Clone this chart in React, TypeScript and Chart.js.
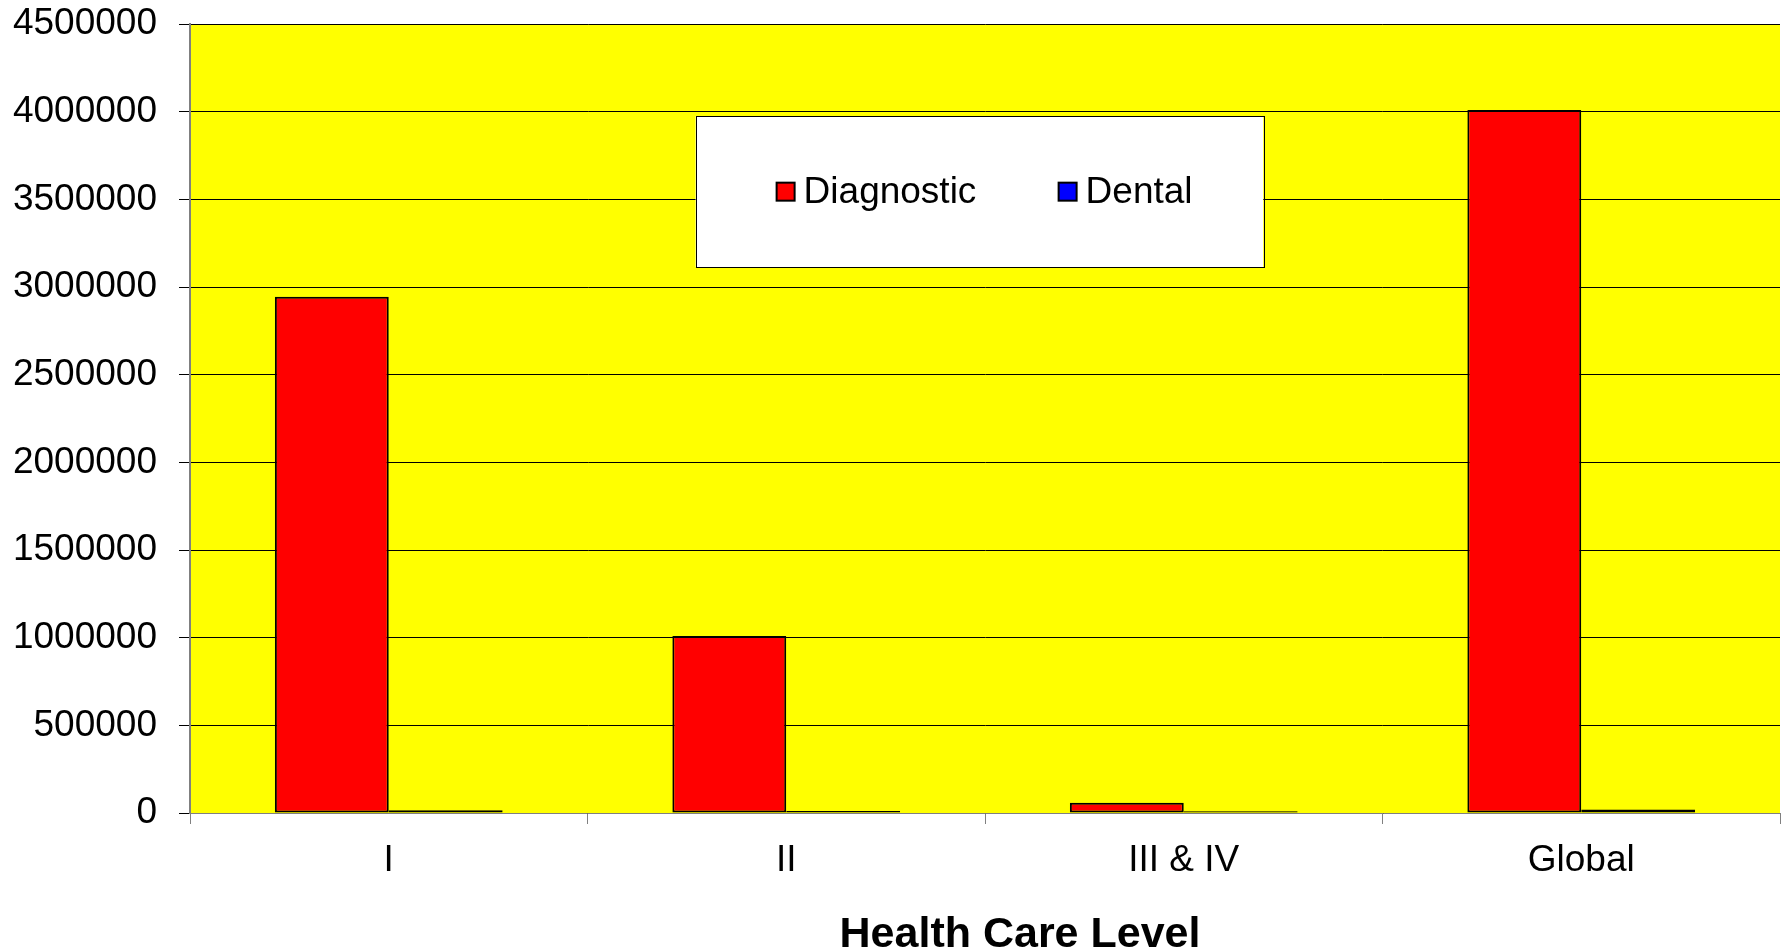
import React, { useEffect, useRef } from "react";
import { Chart, registerables } from "chart.js";

Chart.register(...registerables);

const categories = ["I", "II", "III & IV", "Global"];
const diagnosticValues = [2945000, 1010000, 58000, 4010000];
const dentalValues = [16000, 12000, 10000, 20000];
const seriesNames = ["Diagnostic", "Dental"];
const yTicks = [0, 500000, 1000000, 1500000, 2000000, 2500000, 3000000, 3500000, 4000000, 4500000];
const xAxisTitle = "Health Care Level";

const FONT = '"Liberation Sans", Arial, sans-serif';

const bgPlugin = {
  id: "plotBg",
  beforeDraw(chart: any) {
    const { ctx, chartArea } = chart;
    ctx.save();
    ctx.fillStyle = "#FFFF00";
    ctx.fillRect(chartArea.left, chartArea.top, chartArea.right - chartArea.left, chartArea.bottom - chartArea.top);
    ctx.restore();
  },
};

const overlayPlugin = {
  id: "boxLegend",
  afterDraw(chart: any) {
    const { ctx, chartArea } = chart;
    const w = chartArea.right - chartArea.left;
    const h = chartArea.bottom - chartArea.top;
    const x0 = chartArea.left + w * 0.318;
    const x1 = chartArea.left + w * 0.675;
    const y0 = chartArea.top + h * 0.117;
    const y1 = chartArea.top + h * 0.308;
    ctx.save();
    ctx.fillStyle = "#FFFFFF";
    ctx.fillRect(x0, y0, x1 - x0, y1 - y0);
    ctx.strokeStyle = "#000000";
    ctx.lineWidth = 1;
    ctx.strokeRect(Math.round(x0) + 0.5, Math.round(y0) + 0.5, Math.round(x1 - x0), Math.round(y1 - y0));
    const cy = (y0 + y1) / 2;
    const itemX = [x0 + 81, x0 + 363];
    chart.data.datasets.forEach((ds: any, i: number) => {
      const sx = itemX[i];
      ctx.fillStyle = ds.backgroundColor;
      ctx.fillRect(sx, cy - 9, 18, 18);
      ctx.strokeStyle = "#000000";
      ctx.lineWidth = 2;
      ctx.strokeRect(sx, cy - 9, 18, 18);
      ctx.fillStyle = "#000000";
      ctx.font = `37px ${FONT}`;
      ctx.textBaseline = "middle";
      ctx.textAlign = "left";
      ctx.fillText(ds.label, sx + 27, cy + 1);
    });
    // x-axis title
    ctx.font = `bold 43px ${FONT}`;
    ctx.textAlign = "center";
    ctx.textBaseline = "middle";
    ctx.fillStyle = "#000000";
    ctx.fillText(xAxisTitle, (chartArea.left + chartArea.right) / 2 + 35, chart.height - 16);
    ctx.restore();
  },
};

export default function App() {
  const ref = useRef<HTMLCanvasElement | null>(null);
  useEffect(() => {
    document.body.style.margin = "0";
    const chart = new Chart(ref.current as HTMLCanvasElement, {
      type: "bar",
      data: {
        labels: categories,
        datasets: [
          {
            label: seriesNames[0],
            data: diagnosticValues,
            backgroundColor: "#FF0000",
            borderColor: "#000000",
            borderWidth: 2,
            borderSkipped: false,
          },
          {
            label: seriesNames[1],
            data: dentalValues,
            backgroundColor: "#0000FF",
            borderColor: "#000000",
            borderWidth: 2,
            borderSkipped: false,
          },
        ],
      },
      options: {
        animation: false,
        responsive: true,
        maintainAspectRatio: false,
        layout: { padding: { top: 24, right: 7, bottom: 0, left: 0 } },
        plugins: {
          legend: { display: false },
          tooltip: { enabled: false },
        },
        datasets: {
          bar: { categoryPercentage: 0.573, barPercentage: 1.0 },
        },
        scales: {
          x: {
            offset: true,
            grid: {
              offset: true,
              drawOnChartArea: false,
              drawTicks: true,
              tickLength: 11,
              color: "#808080",
            },
            border: { display: true, color: "#808080", width: 1 },
            ticks: {
              color: "#000000",
              font: { family: FONT, size: 37 },
              padding: 15,
              maxRotation: 0,
            },
            title: { display: false },
            afterFit(scale: any) {
              scale.height = 138;
              scale.paddingLeft = 0;
              scale.paddingRight = 0;
            },
          },
          y: {
            min: 0,
            max: 4500000,
            afterBuildTicks(scale: any) {
              scale.ticks = yTicks.map((v) => ({ value: v }));
            },
            grid: {
              color: "#000000",
              drawTicks: true,
              tickLength: 11,
              lineWidth: 1,
            },
            border: { display: true, color: "#808080", width: 2 },
            ticks: {
              color: "#000000",
              font: { family: FONT, size: 37 },
              padding: 22,
              callback: (v: any) => String(v),
            },
            afterFit(scale: any) {
              scale.width = 190;
              scale.paddingTop = 0;
              scale.paddingBottom = 0;
            },
          },
        },
      },
      plugins: [bgPlugin, overlayPlugin],
    });
    return () => chart.destroy();
  }, []);
  return (
    <div style={{ position: "absolute", left: 0, top: 0, width: 1787, height: 951 }}>
      <canvas ref={ref} />
    </div>
  );
}
